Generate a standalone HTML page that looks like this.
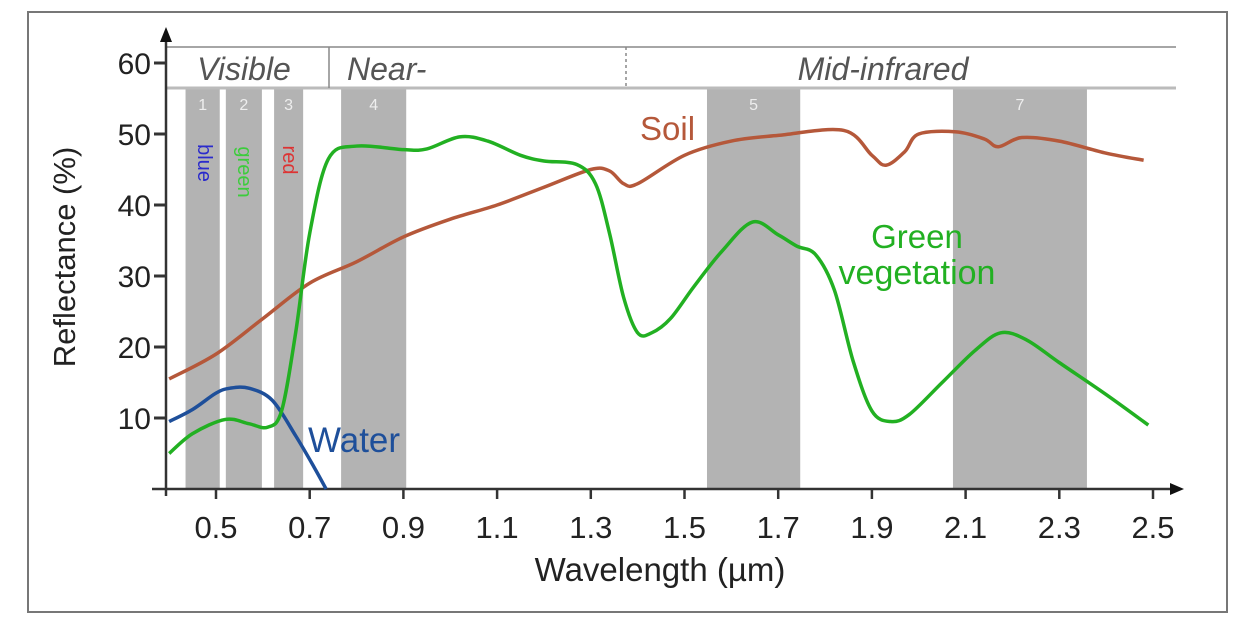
<!DOCTYPE html>
<html><head><meta charset="utf-8"><style>
body{margin:0;background:#fff}
svg{display:block}
text{font-family:"Liberation Sans",Arial,sans-serif}
</style></head><body>
<svg id="chart" width="1246" height="630" viewBox="0 0 1246 630">
<rect x="28" y="12" width="1199" height="600" fill="#fff" stroke="#777" stroke-width="2"/>
<g id="bands"></g>
<g id="header">
<line x1="166" y1="47" x2="1176" y2="47" stroke="#888" stroke-width="1.5"/>
<line x1="166" y1="88" x2="1176" y2="88" stroke="#bbb" stroke-width="3"/>
<line x1="329" y1="47" x2="329" y2="88" stroke="#888" stroke-width="1.5"/>
<line x1="626" y1="47" x2="626" y2="88" stroke="#888" stroke-width="1.5" stroke-dasharray="3,3"/>
<text x="244" y="80" font-size="32" font-style="italic" fill="#555" text-anchor="middle">Visible</text>
<text x="347" y="80" font-size="32" font-style="italic" fill="#555">Near-</text>
<text x="883" y="80" font-size="32" font-style="italic" fill="#555" text-anchor="middle">Mid-infrared</text>
</g>
<g id="bandtext" font-size="20">
<text transform="translate(198,163) rotate(90)" fill="#2a2acc" text-anchor="middle">blue</text>
<text transform="translate(238,172) rotate(90)" fill="#3ccc3c" text-anchor="middle">green</text>
<text transform="translate(283,160) rotate(90)" fill="#dd3333" text-anchor="middle">red</text>
</g>
<g id="axes"></g>
<g id="lines"></g>
<text x="640" y="140" font-size="33" fill="#b5583a">Soil</text>
<text x="917" y="248" font-size="33" fill="#22b022" text-anchor="middle">Green</text>
<text x="917" y="284" font-size="34" fill="#22b022" text-anchor="middle">vegetation</text>
<text x="308" y="452" font-size="35" fill="#1e4f9a">Water</text>
<text transform="translate(75,257) rotate(-90)" font-size="31" fill="#222" text-anchor="middle">Reflectance (%)</text>
<text x="660" y="581" font-size="33" fill="#222" text-anchor="middle">Wavelength (µm)</text>
</svg>
<script>
const xTicks=[0.5,0.7,0.9,1.1,1.3,1.5,1.7,1.9,2.1,2.3,2.5];
const yTicks=[10,20,30,40,50,60];
const bandIds=["1","2","3","4","5","7"];
const bandStart=[0.435,0.521,0.624,0.767,1.548,2.073];
const bandEnd=[0.508,0.598,0.686,0.906,1.747,2.359];
const soilW=[0.4,0.5,0.6,0.7,0.8,0.9,1.0,1.1,1.2,1.3,1.34,1.37,1.4,1.5,1.6,1.7,1.84,1.9,1.93,1.97,2.0,2.08,2.14,2.17,2.22,2.3,2.4,2.48];
const soilR=[15.5,19,24,29,32,35.5,38,40,42.5,45,44.8,43,43,47,49,49.8,50.5,47,45.6,47.5,50,50.3,49.3,48.2,49.5,49,47.3,46.3];
const vegW=[0.4,0.45,0.52,0.57,0.61,0.64,0.67,0.7,0.74,0.8,0.9,0.95,1.02,1.08,1.15,1.2,1.27,1.31,1.34,1.37,1.4,1.43,1.47,1.52,1.58,1.645,1.7,1.74,1.78,1.82,1.86,1.9,1.94,1.98,2.05,2.12,2.175,2.23,2.3,2.4,2.49];
const vegR=[5,7.8,9.8,9.2,8.7,11,22,36,46.5,48.3,47.8,47.9,49.6,49,47,46.2,45.7,43,36,27,22,22,24,28.5,33.5,37.6,35.8,34.2,33,28,18,11,9.5,10.5,15,19.5,22,21,17.8,13.3,9];
const waterW=[0.4,0.45,0.5,0.53,0.57,0.62,0.67,0.71,0.735];
const waterR=[9.5,11.2,13.5,14.2,14.2,12.5,7.5,3,0];
const ns="http://www.w3.org/2000/svg";
const X=w=>216+(w-0.5)*468.5;
const Y=v=>489-v*7.1;
function mk(tag,attrs,parent){const e=document.createElementNS(ns,tag);for(const k in attrs)e.setAttribute(k,attrs[k]);parent.appendChild(e);return e;}
const bands=document.getElementById('bands');
bandIds.forEach((id,i)=>{
 const r=mk('rect',{x:X(bandStart[i]),y:89,width:X(bandEnd[i])-X(bandStart[i]),height:400,fill:'#b3b3b3'},bands);
 
 
 const t=mk('text',{x:(X(bandStart[i])+X(bandEnd[i]))/2,y:110,'font-size':16,fill:'#eee','text-anchor':'middle'},bands);
 t.textContent=id;
 
 
});
const ax=document.getElementById('axes');
let a=mk('line',{x1:152,y1:489,x2:1172,y2:489,stroke:'#333','stroke-width':2.5},ax);

mk('path',{d:'M1184 489 L1170 483 L1170 495 Z',fill:'#111'},ax);
a=mk('line',{x1:166,y1:496,x2:166,y2:40,stroke:'#333','stroke-width':2.5},ax);

mk('path',{d:'M166 27 L160 42 L172 42 Z',fill:'#111'},ax);
xTicks.forEach(w=>{
 mk('line',{x1:X(w),y1:489,x2:X(w),y2:499,stroke:'#333','stroke-width':2.5},ax);
 const t=mk('text',{x:X(w),y:538,'font-size':31,fill:'#222','text-anchor':'middle'},ax);
 t.textContent=w.toFixed(1);
 
 
});
yTicks.forEach(v=>{
 mk('line',{x1:154,y1:Y(v),x2:166,y2:Y(v),stroke:'#333','stroke-width':3},ax);
 const t=mk('text',{x:151,y:Y(v)+11,'font-size':30,fill:'#222','text-anchor':'end'},ax);
 t.textContent=v;
 
 
});
function smooth(ws,rs){
 const p=ws.map((w,i)=>[X(w),Y(rs[i])]);
 let d='M'+p[0][0]+' '+p[0][1];
 for(let i=0;i<p.length-1;i++){
  const p0=p[i-1]||p[i],p1=p[i],p2=p[i+1],p3=p[i+2]||p2;
  const c1=[p1[0]+(p2[0]-p0[0])/6,p1[1]+(p2[1]-p0[1])/6];
  const c2=[p2[0]-(p3[0]-p1[0])/6,p2[1]-(p3[1]-p1[1])/6];
  d+=` C${c1[0]} ${c1[1]} ${c2[0]} ${c2[1]} ${p2[0]} ${p2[1]}`;
 }
 return d;
}
const lines=document.getElementById('lines');
let l=mk('path',{d:smooth(soilW,soilR),fill:'none',stroke:'#b5583a','stroke-width':3.5},lines);

l=mk('path',{d:smooth(waterW,waterR),fill:'none',stroke:'#1e4f9a','stroke-width':3.5},lines);

l=mk('path',{d:smooth(vegW,vegR),fill:'none',stroke:'#22b022','stroke-width':3.5},lines);

</script>
</body></html>
